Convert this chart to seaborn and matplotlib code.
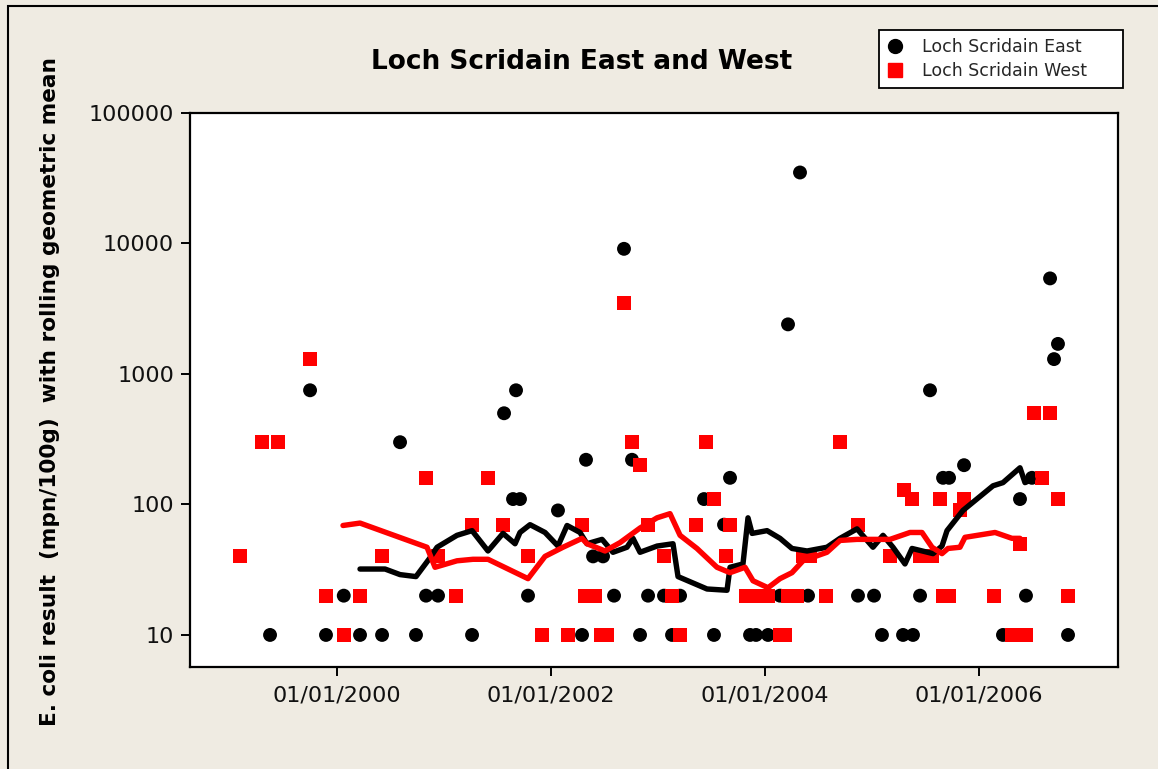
import matplotlib
matplotlib.use("Agg")
import matplotlib.pyplot as plt
import matplotlib.dates as mdates
from matplotlib.patches import Rectangle
from matplotlib.lines import Line2D
from matplotlib.ticker import NullLocator
import numpy as np
import pandas as pd
import seaborn as sns

# sample dates as decimal years, E. coli results in mpn/100g
east_year = [1999.374, 1999.748, 1999.897, 2000.063, 2000.215, 2000.421, 2000.589, 2000.738,
             2000.832, 2000.944, 2001.262, 2001.561, 2001.645, 2001.673, 2001.710, 2001.785,
             2002.065, 2002.290, 2002.327, 2002.393, 2002.486, 2002.589, 2002.682, 2002.757,
             2002.832, 2002.907, 2003.056, 2003.131, 2003.206, 2003.430, 2003.523, 2003.617,
             2003.673, 2003.860, 2003.916, 2004.028, 2004.140, 2004.215, 2004.327, 2004.402,
             2004.869, 2005.019, 2005.093, 2005.290, 2005.383, 2005.449, 2005.542, 2005.664,
             2005.720, 2005.860, 2006.224, 2006.383, 2006.439, 2006.495, 2006.664, 2006.701,
             2006.738, 2006.832]
east_ecoli = [10, 750, 10, 20, 10, 10, 300, 10,
              20, 20, 10, 500, 110, 750, 110, 20,
              90, 10, 220, 40, 40, 20, 9100, 220,
              10, 20, 20, 10, 20, 110, 10, 70,
              160, 10, 10, 10, 20, 2400, 35000, 20,
              20, 20, 10, 10, 10, 20, 750, 160,
              160, 200, 10, 110, 20, 160, 5400, 1300,
              1700, 10]

west_year = [1999.093, 1999.299, 1999.449, 1999.748, 1999.897, 2000.065, 2000.215, 2000.421,
             2000.832, 2000.944, 2001.112, 2001.262, 2001.411, 2001.551, 2001.785, 2001.916,
             2002.159, 2002.290, 2002.318, 2002.411, 2002.467, 2002.523, 2002.682, 2002.757,
             2002.832, 2002.907, 2003.056, 2003.131, 2003.206, 2003.355, 2003.449, 2003.523,
             2003.636, 2003.673, 2003.822, 2003.916, 2004.028, 2004.140, 2004.187, 2004.215,
             2004.299, 2004.355, 2004.421, 2004.570, 2004.701, 2004.869, 2005.168, 2005.299,
             2005.374, 2005.449, 2005.561, 2005.636, 2005.664, 2005.720, 2005.822, 2005.860,
             2006.140, 2006.308, 2006.383, 2006.439, 2006.514, 2006.589, 2006.664, 2006.738,
             2006.832]
west_ecoli = [40, 300, 300, 1300, 20, 10, 20, 40,
              160, 40, 20, 70, 160, 70, 40, 10,
              10, 70, 20, 20, 10, 10, 3500, 300,
              200, 70, 40, 20, 10, 70, 300, 110,
              40, 70, 20, 20, 20, 10, 10, 20,
              20, 40, 40, 20, 300, 70, 40, 130,
              110, 40, 40, 110, 20, 20, 90, 110,
              20, 10, 50, 10, 500, 160, 500, 110,
              20]

# rolling geometric mean lines
east_gm_year = [2000.215, 2000.449, 2000.589, 2000.738, 2000.869, 2000.935, 2001.121, 2001.262,
                2001.411, 2001.551, 2001.664, 2001.710, 2001.804, 2001.944, 2002.065, 2002.150,
                2002.271, 2002.336, 2002.477, 2002.579, 2002.710, 2002.766, 2002.832, 2002.991,
                2003.140, 2003.187, 2003.458, 2003.645, 2003.673, 2003.794, 2003.841, 2003.879,
                2004.019, 2004.140, 2004.252, 2004.393, 2004.579, 2004.701, 2004.860, 2005.009,
                2005.103, 2005.196, 2005.308, 2005.374, 2005.570, 2005.654, 2005.701, 2005.850,
                2006.131, 2006.224, 2006.383, 2006.430, 2006.505]
east_gm = [32, 32, 29, 28, 39, 47, 58, 63,
           44, 60, 50, 61, 70, 61, 48, 69,
           61, 50, 54, 43, 47, 55, 43, 48,
           50, 28, 22.5, 22, 33, 35, 79, 60,
           63, 55, 46, 44, 47, 55, 65, 47,
           58, 47, 35, 46, 42, 48, 63, 90,
           139, 147, 191, 147, 157]

west_gm_year = [2000.056, 2000.215, 2000.841, 2000.916, 2001.121, 2001.271, 2001.411, 2001.785,
                2001.944, 2002.112, 2002.290, 2002.336, 2002.505, 2002.645, 2002.832, 2002.991,
                2003.112, 2003.206, 2003.364, 2003.551, 2003.673, 2003.813, 2003.888, 2004.028,
                2004.140, 2004.252, 2004.355, 2004.579, 2004.701, 2004.860, 2005.168, 2005.355,
                2005.467, 2005.561, 2005.654, 2005.710, 2005.822, 2005.869, 2006.150, 2006.308,
                2006.383]
west_gm = [69, 72, 47, 33, 37, 38, 38, 27,
           40, 47, 55, 50, 44, 51, 66, 79,
           85, 58, 46, 33, 30, 33, 26, 23,
           27, 30, 37, 43, 53, 54, 54, 61,
           61, 47, 42, 46, 47, 56, 61, 55,
           55]

y_ticks = [10, 100, 1000, 10000, 100000]
x_ticks = ["2000-01-01", "2002-01-01", "2004-01-01", "2006-01-01"]


def to_date(years):
    years = np.asarray(years, dtype=float)
    return pd.Timestamp("2000-01-01") + pd.to_timedelta((years - 2000) * 365.25, unit="D")


east = pd.DataFrame({"date": to_date(east_year), "ecoli": east_ecoli})
west = pd.DataFrame({"date": to_date(west_year), "ecoli": west_ecoli})
east_line = pd.DataFrame({"date": to_date(east_gm_year), "gm": east_gm})
west_line = pd.DataFrame({"date": to_date(west_gm_year), "gm": west_gm})

sns.set_style("ticks")
plt.rcParams["font.family"] = ["DejaVu Sans"]

bg = "#efebe2"
fig = plt.figure(figsize=(11.58, 7.69), dpi=100, facecolor=bg)
ax = fig.add_axes([190 / 1158, 1 - 667 / 769, (1118 - 190) / 1158, (667 - 113) / 769])
ax.set_facecolor("white")
ax.set_yscale("log")

sns.scatterplot(data=east, x="date", y="ecoli", marker="o", s=100, color="black",
                edgecolor="none", linewidth=0, ax=ax, zorder=3, legend=False)
sns.scatterplot(data=west, x="date", y="ecoli", marker="s", s=100, color="#ff0000",
                edgecolor="none", linewidth=0, ax=ax, zorder=4, legend=False)
sns.lineplot(data=east_line, x="date", y="gm", color="black", linewidth=3.9,
             estimator=None, sort=False, ax=ax, zorder=5)
sns.lineplot(data=west_line, x="date", y="gm", color="#ff0000", linewidth=3.9,
             estimator=None, sort=False, ax=ax, zorder=6)

ax.set_xlim(to_date([1998.626, 2007.299]))
ax.set_ylim(5.68, 100000)
ax.set_yticks(y_ticks)
ax.set_yticklabels([str(v) for v in y_ticks])
ax.yaxis.set_minor_locator(NullLocator())
ax.set_xticks(pd.to_datetime(x_ticks))
ax.xaxis.set_major_formatter(mdates.DateFormatter("%d/%m/%Y"))
ax.xaxis.set_minor_locator(NullLocator())
ax.set_xlabel("")
ax.set_ylabel("")

for sp in ax.spines.values():
    sp.set_visible(True)
    sp.set_color("black")
    sp.set_linewidth(1.6)
ax.tick_params(axis="both", direction="out", length=6.5, width=1.4, color="black",
               labelsize=16, labelcolor="#111111", pad=5)
ax.tick_params(axis="x", pad=7)
ax.grid(False)

fig.text(0.502, 1 - 62 / 769, "Loch Scridain East and West", ha="center", va="center",
         fontsize=19, fontweight="bold", color="black")
fig.text(50 / 1158, 1 - 391 / 769, "E. coli result  (mpn/100g)  with rolling geometric mean",
         rotation=90, ha="center", va="center", fontsize=15.6, fontweight="bold", color="black")

handles = [
    Line2D([], [], marker="o", linestyle="none", color="black", markersize=10),
    Line2D([], [], marker="s", linestyle="none", color="#ff0000", markersize=10),
]
leg = fig.legend(handles, ["Loch Scridain East", "Loch Scridain West"],
                 loc="upper left", bbox_to_anchor=(879 / 1158, 1 - 30 / 769, (1123 - 879) / 1158, 0),
                 mode="expand", fontsize=12.5, frameon=True, fancybox=False,
                 borderpad=0.45, labelspacing=0.35, handlelength=1.0, handletextpad=1.0,
                 borderaxespad=0)
leg.get_frame().set_edgecolor("black")
leg.get_frame().set_linewidth(1.3)
leg.get_frame().set_facecolor("white")
leg.get_frame().set_alpha(1)

fig.add_artist(Rectangle((8 / 1158, -0.05), 1.1, 1 - 6 / 769 + 0.05, transform=fig.transFigure,
                         fill=False, edgecolor="black", linewidth=1.5, zorder=0))

fig.savefig("out.png", dpi=100, facecolor=bg)
